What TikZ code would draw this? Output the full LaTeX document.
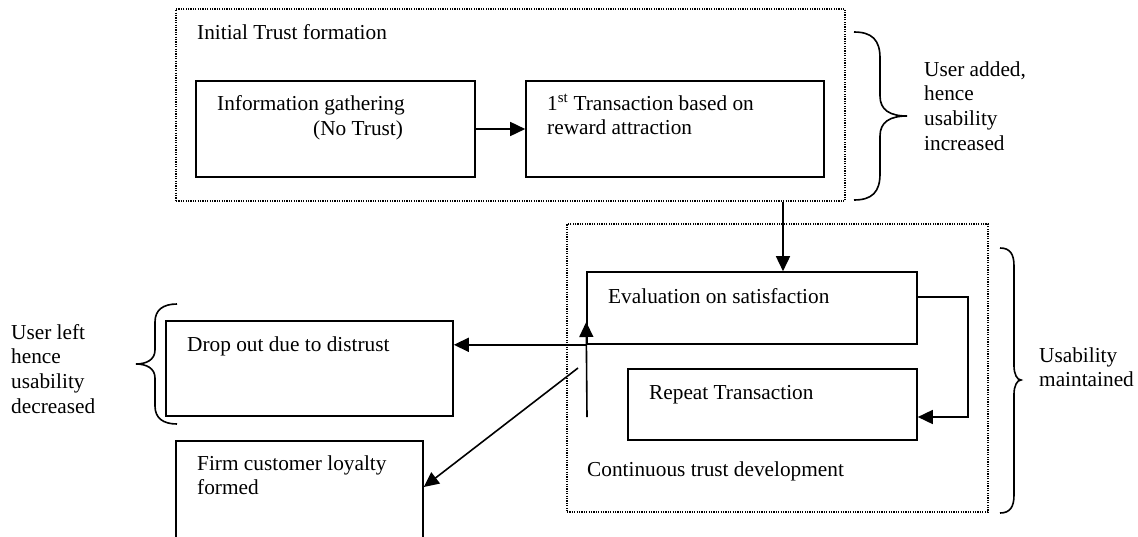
\documentclass[tikz,border=0pt]{standalone}
\usepackage{fontspec}
\setmainfont{Liberation Serif}
\usetikzlibrary{arrows.meta}
\begin{document}
\begin{tikzpicture}[x=1pt,y=-1pt,
  box/.style={draw, line width=1.6pt, inner sep=0pt},
  group/.style={draw, line width=1.3pt, dash pattern=on 1.2pt off 1.2pt, inner sep=0pt},
  txt/.style={anchor=base west, inner sep=0pt, align=left, font=\fontsize{21.3}{24.7}\selectfont},
  arr/.style={line width=1.6pt, -{Triangle[length=15pt,width=14pt]}},
  bracestyle/.style={line width=1.6pt}]
\useasboundingbox (0,0) rectangle (1138,536);
\clip (0,0) rectangle (1138,536);

% groups
\node[group, minimum width=669pt, minimum height=192pt] (group1) at (510.5,105) {};
\node[group, minimum width=421pt, minimum height=288pt] (group2) at (777.5,368) {};

% boxes
\node[box, minimum width=279pt, minimum height=96pt] (info) at (335.5,129) {};
\node[box, minimum width=298pt, minimum height=96pt] (first) at (675,129) {};
\node[box, minimum width=330pt, minimum height=72pt] (eval) at (752,308) {};
\node[box, minimum width=289pt, minimum height=71pt] (repeat) at (772.5,404.5) {};
\node[box, minimum width=287pt, minimum height=95pt] (drop) at (309.5,368.5) {};
\node[box, minimum width=247pt, minimum height=104pt] (firm) at (299.5,493) {};

% texts (multi-line nodes: base = baseline of last line)
\node[txt] (t1) at (197,39) {Initial Trust formation};
\node[txt] (t2) at (217,110) {Information gathering};
\node[txt] (t3) at (313,135) {(No Trust)};
\node[txt] (t4) at (547,134.7) {1\textsuperscript{st} Transaction based on\\reward attraction};
\node[txt] (t5) at (608,303) {Evaluation on satisfaction};
\node[txt] (t6) at (649,399) {Repeat Transaction};
\node[txt] (t7) at (587,476) {Continuous trust development};
\node[txt] (t8) at (187,351) {Drop out due to distrust};
\node[txt] (t9) at (197,494.7) {Firm customer loyalty\\formed};
\node[txt] (t10) at (924,150.1) {User added,\\hence\\usability\\increased};
\node[txt] (t11) at (11,413.1) {User left\\hence\\usability\\decreased};
\node[txt] (t12) at (1039,386.7) {Usability\\maintained};

% braces
\draw[bracestyle] (854,32) .. controls (872,32) and (880,40) .. (880,58) -- (880,96)
  .. controls (880,110) and (890,116) .. (907,116)
  .. controls (890,116) and (880,122) .. (880,136) -- (880,174)
  .. controls (880,192) and (872,200) .. (854,200);
\draw[bracestyle] (1000,248) .. controls (1010,248) and (1014,254) .. (1014,266) -- (1014,366)
  .. controls (1014,374) and (1017,380) .. (1021,380)
  .. controls (1017,380) and (1014,386) .. (1014,394) -- (1014,495)
  .. controls (1014,507) and (1010,513) .. (1000,513);
\draw[bracestyle] (177,304) .. controls (163,304) and (155,310) .. (155,322) -- (155,350)
  .. controls (155,360) and (146,364) .. (136,364)
  .. controls (146,364) and (155,368) .. (155,378) -- (155,406)
  .. controls (155,418) and (163,424) .. (177,424);

% connectors
\coordinate (vx) at (783,0);
\coordinate (loopa) at (968,297);
\coordinate (loopb) at (968,417);
\coordinate (upstart) at (587,417);
\coordinate (uptip) at (587,322);
\coordinate (diagstart) at (578,368);
\coordinate (diagtip) at (424,487);

\draw[arr] (info.east) -- (first.west);
\draw[arr] (group1.south -| vx) -- (eval.north -| vx);
\draw[arr] (eval.east |- loopa) -- (loopa) -- (loopb) -- (repeat.east |- loopb);
\draw[arr] (eval.south west) -- (drop.east |- eval.south west);
\draw[arr] (upstart) -- (eval.west |- uptip);
\draw[arr] (diagstart) -- (firm.east |- diagtip);
\end{tikzpicture}
\end{document}
